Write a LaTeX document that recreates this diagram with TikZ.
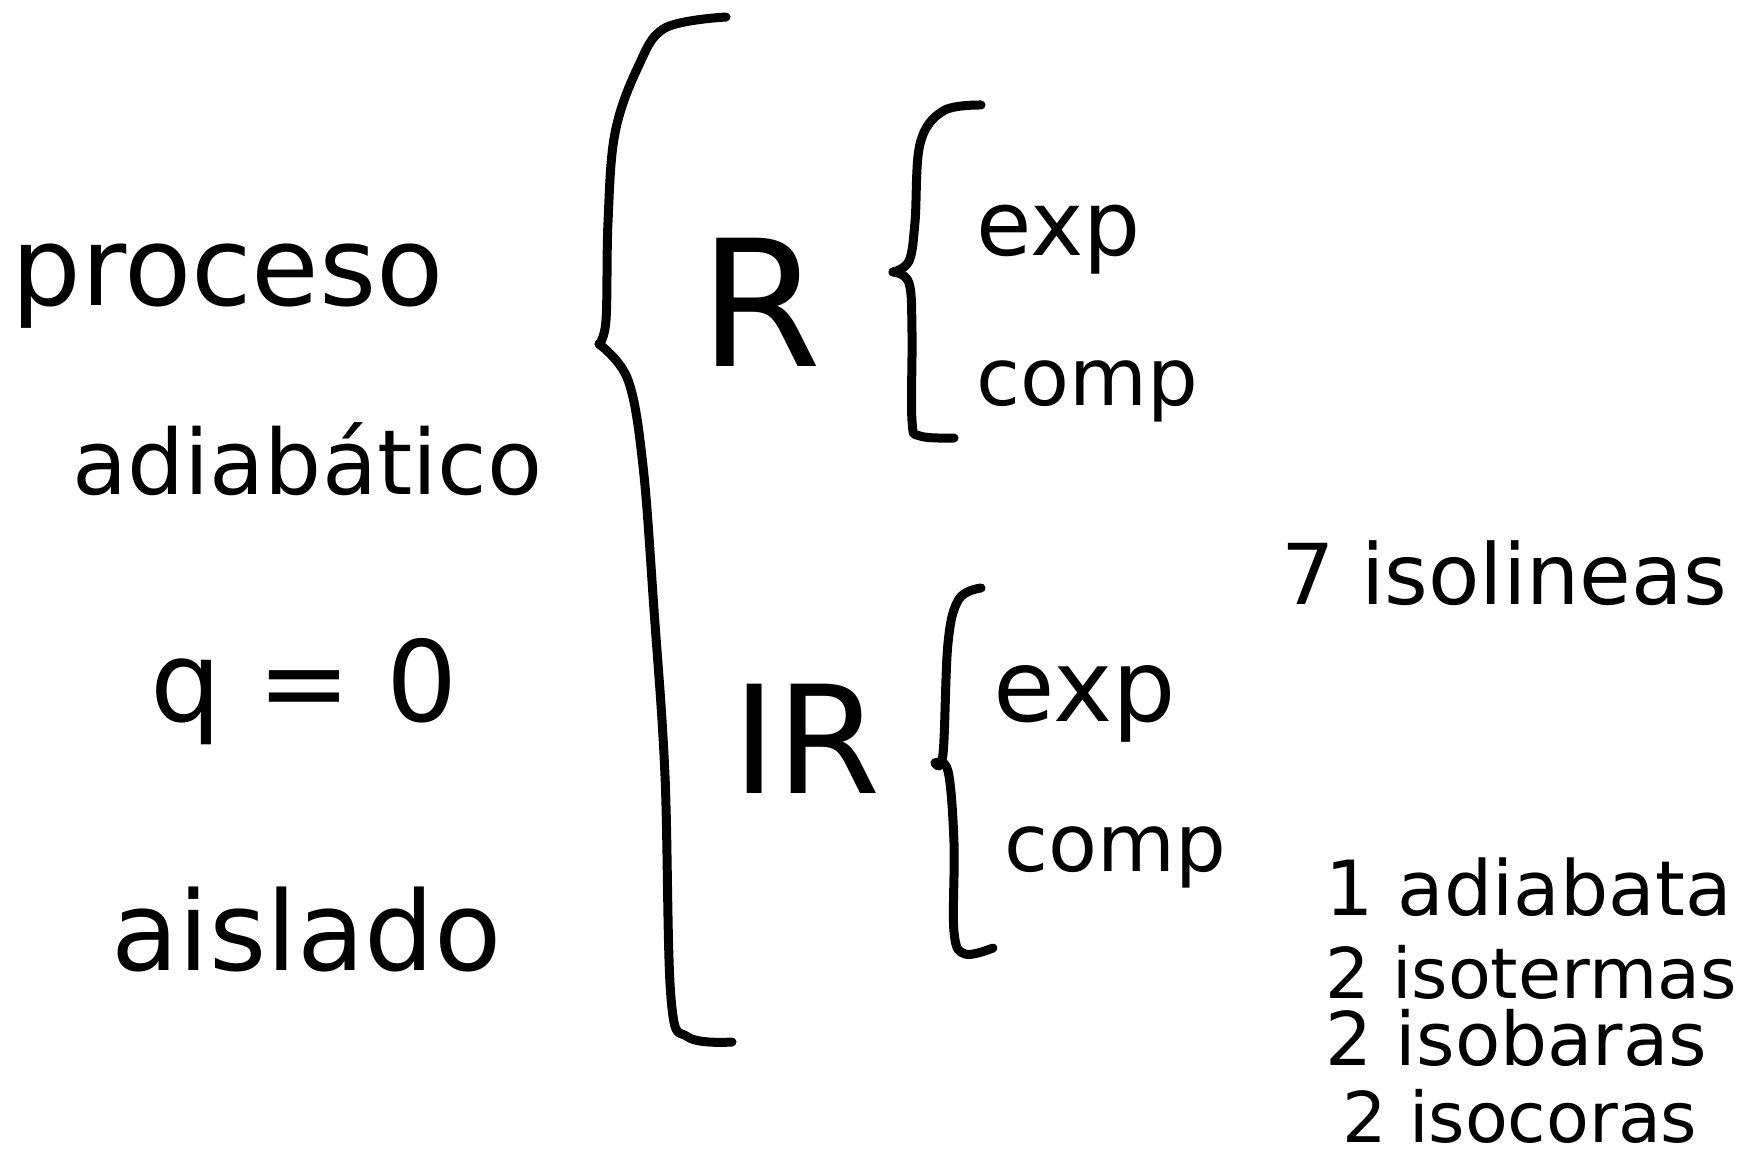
\documentclass[tikz,border=0pt]{standalone}
\usepackage{fontspec}
\setmainfont{DejaVu Sans}
\begin{document}
\begin{tikzpicture}[x=0.5pt,y=-0.5pt,
  txt/.style={inner sep=0pt,anchor=base west,text=black},
  brace/.style={draw=black,line width=4.5pt,line cap=round,line join=round}]
\useasboundingbox (0,0) rectangle (1739,1156);
% left column
\node[txt,font=\fontsize{55pt}{66pt}\selectfont] (proceso) at (11,305) {proceso};
\node[txt,font=\fontsize{45pt}{54pt}\selectfont] (adiab) at (72,494) {adiabático};
\node[txt,font=\fontsize{56pt}{66pt}\selectfont] (q) at (150,721) {q = 0};
\node[txt,font=\fontsize{55pt}{66pt}\selectfont] (aislado) at (111,970) {aislado};
% big brace
\draw[brace] plot[smooth,tension=0.6] coordinates {(726,17) (665,28) (638,67) (615,133) (608,222) (606,320) (599,344)};
\draw[brace] plot[smooth,tension=0.6] coordinates {(599,344) (628,380) (643,466) (654,610) (665,776) (671,998) (688,1037) (732,1042)};
% R branch
\node[txt,font=\fontsize{88pt}{100pt}\selectfont] (R) at (699,366) {R};
\draw[brace] plot[smooth,tension=0.6] coordinates {(981,105) (943,111) (920,144) (915,222) (909,261) (893,272)};
\draw[brace] plot[smooth,tension=0.6] coordinates {(893,272) (909,283) (912,333) (912,421) (920,436) (954,438)};
\node[txt,font=\fontsize{45pt}{54pt}\selectfont] (expR) at (976,255) {exp};
\node[txt,font=\fontsize{40pt}{48pt}\selectfont] (compR) at (976,405) {comp};
% IR branch
\node[txt,font=\fontsize{75pt}{90pt}\selectfont] (IR) at (732,793) {IR};
\draw[brace] plot[smooth,tension=0.6] coordinates {(981,588) (959,599) (948,643) (943,754) (935,763)};
\draw[brace] plot[smooth,tension=0.6] coordinates {(935,763) (948,771) (954,843) (954,932) (965,954) (993,948)};
\node[txt,font=\fontsize{50pt}{60pt}\selectfont] (expIR) at (993,721) {exp};
\node[txt,font=\fontsize{40pt}{48pt}\selectfont] (compIR) at (1004,871) {comp};
% right list
\node[txt,font=\fontsize{42pt}{50pt}\selectfont] (iso) at (1281,604) {7 isolineas};
\node[txt,font=\fontsize{38pt}{46pt}\selectfont] (l1) at (1325,915) {1 adiabata};
\node[txt,font=\fontsize{35pt}{42pt}\selectfont] (l2) at (1325,998) {2 isotermas};
\node[txt,font=\fontsize{37pt}{44pt}\selectfont] (l3) at (1325,1065) {2 isobaras};
\node[txt,font=\fontsize{35pt}{42pt}\selectfont] (l4) at (1342,1142) {2 isocoras};
\end{tikzpicture}
\end{document}
